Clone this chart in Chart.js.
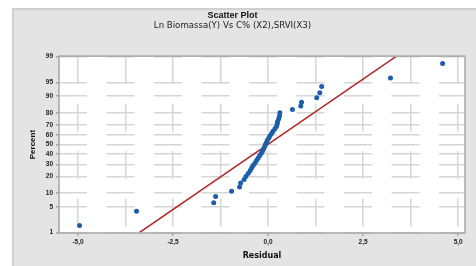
<!DOCTYPE html>
<html>
<head>
<meta charset="utf-8">
<script src="https://cdn.jsdelivr.net/npm/chart.js@4"></script>
<style>
  html, body { margin: 0; padding: 0; background: #ffffff; }
  #frame {
    position: absolute; left: 12px; top: 8px; width: 464px; height: 258px;
    background: #e4e4e4; box-sizing: border-box;
    border-left: 2px solid #cfcfcf; border-top: 2px solid #cfcfcf;
  }
  #wrap { position: absolute; left: 0; top: 0; width: 476px; height: 266px; }
</style>
</head>
<body>
<div id="frame"></div>
<div id="wrap"><canvas id="chart" width="476" height="266"></canvas></div>
<script>
// residuals, sorted
const residuals = [
  -4.96, -3.46, -1.43, -1.38, -0.96, -0.75, -0.72, -0.63, -0.58, -0.52,
  -0.47, -0.43, -0.39, -0.34, -0.30, -0.26, -0.22, -0.18, -0.15, -0.12,
  -0.09, -0.07, -0.04, -0.02, 0.02, 0.05, 0.09, 0.13, 0.18, 0.22,
  0.24, 0.25, 0.28, 0.30, 0.31, 0.64, 0.86, 0.88, 1.28, 1.36,
  1.41, 3.22, 4.59
];
// plotted percent of each residual
const percents = [
  1.6, 3.9, 6.2, 8.5, 10.8, 13.1, 15.4, 17.7, 20.0, 22.4,
  24.7, 27.0, 29.3, 31.6, 33.9, 36.2, 38.5, 40.8, 43.1, 45.4,
  47.7, 50.0, 52.3, 54.6, 56.9, 59.2, 61.5, 63.8, 66.1, 68.4,
  70.7, 73.0, 75.3, 77.6, 80.0, 82.3, 84.6, 86.9, 89.2, 91.5,
  93.8, 96.1, 98.4
];
// fitted normal line end points
const fitX = [-3.38, 3.36];
const fitPct = [1, 99];

const yTickPct = [1, 5, 10, 20, 30, 40, 50, 60, 70, 80, 90, 95, 99];
const xTicks = [-5, -3.75, -2.5, -1.25, 0, 1.25, 2.5, 3.75, 5];
const xLabels = ['-5,0', '', '-2,5', '', '0,0', '', '2,5', '', '5,0'];

// inverse normal cdf (Acklam)
function probit(p) {
  const a = [-3.969683028665376e+01, 2.209460984245205e+02, -2.759285104469687e+02, 1.383577518672690e+02, -3.066479806614716e+01, 2.506628277459239e+00];
  const b = [-5.447609879822406e+01, 1.615858368580409e+02, -1.556989798598866e+02, 6.680131188771972e+01, -1.328068155288572e+01];
  const c = [-7.784894002430293e-03, -3.223964580411365e-01, -2.400758277161838e+00, -2.549732539343734e+00, 4.374664141464968e+00, 2.938163982698783e+00];
  const d = [7.784695709041462e-03, 3.224671290700398e-01, 2.445134137142996e+00, 3.754408661907416e+00];
  const pl = 0.02425;
  let q, r;
  if (p < pl) {
    q = Math.sqrt(-2 * Math.log(p));
    return (((((c[0]*q+c[1])*q+c[2])*q+c[3])*q+c[4])*q+c[5]) / ((((d[0]*q+d[1])*q+d[2])*q+d[3])*q+1);
  }
  if (p > 1 - pl) {
    q = Math.sqrt(-2 * Math.log(1 - p));
    return -(((((c[0]*q+c[1])*q+c[2])*q+c[3])*q+c[4])*q+c[5]) / ((((d[0]*q+d[1])*q+d[2])*q+d[3])*q+1);
  }
  q = p - 0.5; r = q * q;
  return (((((a[0]*r+a[1])*r+a[2])*r+a[3])*r+a[4])*r+a[5])*q / (((((b[0]*r+b[1])*r+b[2])*r+b[3])*r+b[4])*r+1);
}

const points = residuals.map((x, i) => ({ x, y: probit(percents[i] / 100) }));
const fitLine = fitX.map((x, i) => ({ x, y: probit(fitPct[i] / 100) }));

const plotBg = {
  id: 'plotBg',
  beforeDraw(chart) {
    const { ctx, chartArea: a } = chart;
    ctx.save();
    ctx.fillStyle = '#ffffff';
    ctx.fillRect(a.left, a.top, a.right - a.left, a.bottom - a.top);
    ctx.restore();
  },
  afterDraw(chart) {
    const { ctx, chartArea: a } = chart;
    ctx.save();
    ctx.strokeStyle = '#a6a6a6';
    ctx.lineWidth = 1.5;
    ctx.strokeRect(a.left, a.top, a.right - a.left, a.bottom - a.top);
    ctx.restore();
  }
};

const tickFont = { family: 'Liberation Sans, Arial, sans-serif', size: 6.5, weight: 'bold' };

new Chart(document.getElementById('chart'), {
  type: 'scatter',
  data: {
    datasets: [
      {
        label: 'Fit',
        type: 'line',
        data: fitLine,
        borderColor: '#b22a2a',
        borderWidth: 1.5,
        pointRadius: 0,
        fill: false,
        order: 2
      },
      {
        label: 'Residual',
        data: points,
        backgroundColor: '#1c5eaa',
        borderColor: '#1c5eaa',
        pointStyle: 'circle',
        pointRadius: 2.5,
        borderWidth: 0,
        order: 1
      }
    ]
  },
  options: {
    responsive: false,
    animation: false,
    events: [],
    layout: { padding: { left: 0, right: 11, top: 0, bottom: 0 } },
    plugins: {
      legend: { display: false },
      tooltip: { enabled: false },
      title: {
        display: true,
        text: 'Scatter Plot',
        color: '#111',
        font: { family: 'Liberation Sans, Arial, sans-serif', size: 9, weight: 'bold' },
        padding: { top: 10, bottom: 0 }
      },
      subtitle: {
        display: true,
        text: 'Ln Biomassa(Y) Vs C% (X2),SRVI(X3)',
        color: '#222',
        font: { family: 'DejaVu Sans, sans-serif', size: 8.6, weight: 'normal' },
        padding: { top: 0, bottom: 25 }
      }
    },
    scales: {
      x: {
        type: 'linear',
        min: -5.5,
        max: 5.18,
        afterBuildTicks: (scale) => { scale.ticks = xTicks.map(v => ({ value: v })); },
        afterFit: (scale) => { scale.height = 33; },
        ticks: {
          autoSkip: false,
          maxRotation: 0,
          padding: 2,
          color: '#222',
          font: tickFont,
          callback: (v, i) => xLabels[i]
        },
        grid: {
          color: '#d6d6d6',
          lineWidth: 1.5,
          tickLength: 3,
          tickColor: (ctx) => (xLabels[ctx.index] ? '#a6a6a6' : 'rgba(0,0,0,0)')
        },
        border: { display: false, dash: [28, 19.5], dashOffset: 0 },
        title: {
          display: true,
          text: 'Residual',
          color: '#111',
          font: { family: 'DejaVu Sans, sans-serif', size: 8, weight: 'bold' },
          padding: { top: 0, bottom: 5 }
        }
      },
      y: {
        type: 'linear',
        min: -2.34,
        max: 2.34,
        afterBuildTicks: (scale) => { scale.ticks = yTickPct.map(p => ({ value: probit(p / 100) })); },
        afterFit: (scale) => { scale.width = 59; },
        ticks: {
          autoSkip: false,
          padding: 3,
          color: '#222',
          font: tickFont,
          callback: (v, i) => String(yTickPct[i])
        },
        grid: {
          color: '#d6d6d6',
          lineWidth: 1.5,
          tickLength: 3,
          tickColor: '#a6a6a6'
        },
        border: { display: false, dash: [28, 19.5], dashOffset: 0 },
        title: {
          display: true,
          text: 'Percent',
          color: '#111',
          font: { family: 'Liberation Sans, Arial, sans-serif', size: 8, weight: 'bold' },
          padding: { top: 28, bottom: 0 }
        }
      }
    }
  },
  plugins: [plotBg]
});
</script>
</body>
</html>
